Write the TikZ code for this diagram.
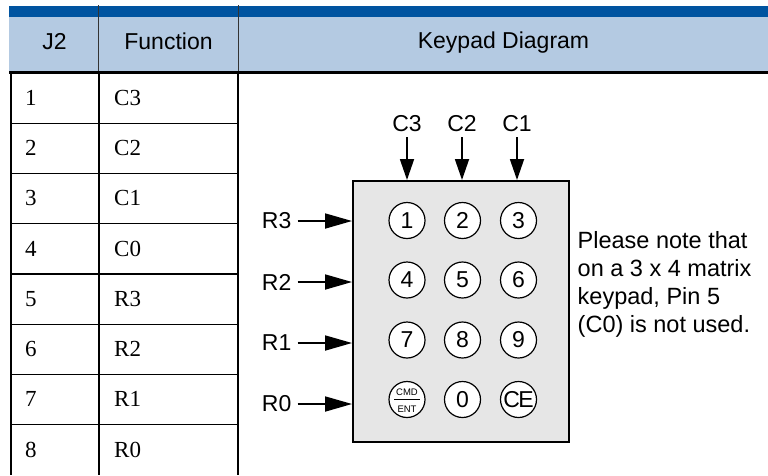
\documentclass[tikz,border=0pt]{standalone}
\usepackage{fontspec}
\setmainfont{Liberation Serif}
\setsansfont{Liberation Sans}
\usetikzlibrary{arrows.meta}

\definecolor{barblue}{HTML}{0054A0}
\definecolor{headblue}{HTML}{B4CAE2}
\definecolor{padgray}{HTML}{E6E6E6}

\tikzset{
  rowfeed/.style={-{Triangle[length=27pt,width=15pt]}, line width=1.8pt},
  colfeed/.style={-{Triangle[length=21pt,width=14pt]}, line width=1.8pt}
}

\begin{document}
\begin{tikzpicture}[x=1pt,y=-1pt,
  hdr/.style={font=\sffamily\fontsize{23}{27}\selectfont, inner sep=0, anchor=base},
  cell/.style={font=\rmfamily\fontsize{23}{27}\selectfont, inner sep=0, anchor=base west},
  lbl/.style={font=\sffamily\fontsize{23}{27.8}\selectfont, inner sep=0},
  tiny/.style={font=\sffamily\fontsize{9.5}{10}\selectfont, inner sep=0, anchor=base},
  key/.style={circle, draw, line width=1.2pt, fill=white, minimum size=36pt,
              inner sep=0, font=\sffamily\fontsize{23}{24}\selectfont},
  rowline/.style={line width=1.2pt},
  colline/.style={line width=2pt}
]
\useasboundingbox (0,0) rectangle (768,475);

% header band
\fill[barblue] (9,6) rectangle (768,16.7);
\fill[headblue] (9,16.7) rectangle (768,71);
\draw[line width=0.8pt, black!80] (98.8,5) -- (98.8,71) (238.3,5) -- (238.3,71);
\draw[line width=2.7pt] (9,72.3) -- (768,72.3);

\node[hdr] (hpin) at (54.5,49.3) {J2};
\node[hdr] (hfun) at (168.5,49.3) {Function};
\node[hdr] (hpad) at (503.5,48.5) {Keypad Diagram};

% table body
\draw[colline] (11,72.3) -- (11,475) (98.8,72.3) -- (98.8,475) (238.3,72.3) -- (238.3,475);
\foreach \i in {1,...,7}
  \draw[rowline] (11,{73+50.25*\i}) -- (238.3,{73+50.25*\i});

\foreach \n/\f in {1/C3,2/C2,3/C1,4/C0,5/R3,6/R2,7/R1,8/R0} {
  \node[cell] (pin\n) at (25,{73+50.25*\n-17.8}) {\n};
  \node[cell] (fun\n) at (114,{73+50.25*\n-17.8}) {\f};
}

% keypad body
\node[draw, line width=2pt, fill=padgray, minimum width=216pt, minimum height=261pt,
      inner sep=0] (pad) at (461,311.5) {};

\node[key] (k1) at (407,220.5) {1};
\node[key] (k2) at (462.5,220.5) {2};
\node[key] (k3) at (518.5,220.5) {3};
\node[key] (k4) at (407,280) {4};
\node[key] (k5) at (462.5,280) {5};
\node[key] (k6) at (518.5,280) {6};
\node[key] (k7) at (407,340) {7};
\node[key] (k8) at (462.5,340) {8};
\node[key] (k9) at (518.5,340) {9};
\node[key] (kcmd) at (407,399.5) {};
\node[key] (k0) at (462.5,399.5) {0};
\node[key] (kce) at (518.5,399.5) {C\kern-1.5pt E};

\node[tiny] (cmdtop) at (407,395) {CMD};
\node[tiny] (cmdbot) at (407,412) {ENT};
\draw[line width=1.4pt] ([xshift=-12.8pt]kcmd.center) -- ([xshift=12.8pt]kcmd.center);

% column lines
\node[lbl, anchor=base] (c3) at (407,131.7) {C3};
\node[lbl, anchor=base] (c2) at (462,131.7) {C2};
\node[lbl, anchor=base] (c1) at (517,131.7) {C1};
\draw[colfeed] ([yshift=-5.5pt]c3.base) -- (c3.base |- pad.north);
\draw[colfeed] ([yshift=-5.5pt]c2.base) -- (c2.base |- pad.north);
\draw[colfeed] ([yshift=-5.5pt]c1.base) -- (c1.base |- pad.north);

% row lines
\node[lbl, anchor=east] (r3) at (291.5,221) {R3};
\node[lbl, anchor=east] (r2) at (291.5,282) {R2};
\node[lbl, anchor=east] (r1) at (291.5,343) {R1};
\node[lbl, anchor=east] (r0) at (291.5,404) {R0};
\draw[rowfeed] ([xshift=6pt]r3.east) -- (r3.east -| pad.west);
\draw[rowfeed] ([xshift=6pt]r2.east) -- (r2.east -| pad.west);
\draw[rowfeed] ([xshift=6pt]r1.east) -- (r1.east -| pad.west);
\draw[rowfeed] ([xshift=6pt]r0.east) -- (r0.east -| pad.west);

% note
\node[lbl, font=\sffamily\fontsize{23.5}{27.8}\selectfont, anchor=north west, align=left]
  (note) at (577.5,231.5)
  {Please note that\\on a 3 x 4 matrix\\keypad, Pin 5\\(C0) is not used.};
\end{tikzpicture}
\end{document}
